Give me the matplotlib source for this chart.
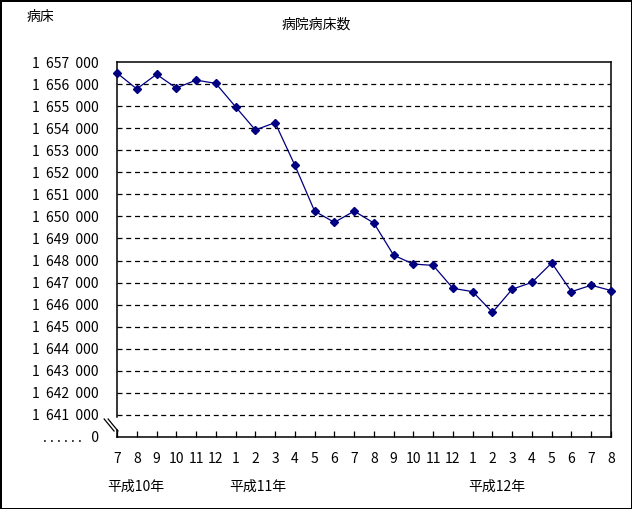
import matplotlib
matplotlib.use("Agg")
import matplotlib.pyplot as plt
import matplotlib.transforms as mtransforms
import numpy as np

plt.rcParams["font.family"] = ["Noto Sans CJK JP", "DejaVu Sans"]

# data: hospital beds, monthly, H10.7 - H12.8
months = [7, 8, 9, 10, 11, 12, 1, 2, 3, 4, 5, 6, 7, 8, 9, 10, 11, 12,
          1, 2, 3, 4, 5, 6, 7, 8]
beds = [1656500, 1655780, 1656440, 1655820, 1656180, 1656030, 1654970,
        1653920, 1654250, 1652320, 1650240, 1649730, 1650240, 1649700,
        1648240, 1647840, 1647780, 1646740, 1646590, 1645650, 1646700,
        1647010, 1647890, 1646590, 1646880, 1646640]
year_labels = ["平成10年", "平成11年", "平成12年"]
year_pos = [-0.5, 5.7, 17.8]

y_ticks = list(range(1641000, 1657001, 1000))
y_base = 1640000  # drawn as "0" below the axis break


def fmt(v):
    return f"{v:,}".replace(",", "  ")


fig = plt.figure(figsize=(6.32, 5.09), dpi=100, facecolor="white",
                 edgecolor="black", linewidth=2)
ax = fig.add_axes([117 / 632, 1 - 437 / 509, 494 / 632, 375 / 509])

x = np.arange(len(beds))
ax.plot(x, beds, color="#000080", lw=0.9, marker="D", markersize=4.5,
        markerfacecolor="#000080", markeredgecolor="#000080", clip_on=False, zorder=5)

ax.set_xlim(0, len(beds) - 1)
ax.set_ylim(y_base, y_ticks[-1])

# gridlines
for v in y_ticks[:-1]:
    ax.axhline(v, color="black", lw=0.9, ls=(0, (4, 3)), zorder=1)

ax.set_yticks([y_base] + y_ticks)
ax.set_yticklabels([". . . . . .   0"] + [fmt(v) for v in y_ticks])
ax.tick_params(axis="y", length=0, pad=13, labelsize=10)

ax.set_xticks(x)
ax.set_xticklabels([str(m) for m in months])
ax.tick_params(axis="x", direction="in", length=4, width=0.9, pad=11, labelsize=10)

for sp in ["top", "right", "bottom"]:
    ax.spines[sp].set_linewidth(1.1)
ax.spines["left"].set_visible(False)

# left axis with a break between 1641000 and 0
brk_top = (y_ticks[0] - y_base) / (y_ticks[-1] - y_base) - 0.006
brk_bot = 0.019
ax.plot([0, 0], [brk_top, 1], transform=ax.transAxes, color="black", lw=1.1, clip_on=False)
ax.plot([0, 0], [0, brk_bot], transform=ax.transAxes, color="black", lw=1.1, clip_on=False)
for dx in (-0.012, -0.004):
    ax.plot([dx - 0.014, dx + 0.006], [0.048, 0.016], transform=ax.transAxes,
            color="black", lw=0.9, clip_on=False)

trans = mtransforms.blended_transform_factory(ax.transData, ax.transAxes)
for lab, p in zip(year_labels, year_pos):
    ax.text(p, -0.133, lab, transform=trans, ha="left", va="center", fontsize=10)

fig.text(27 / 632, 1 - 17 / 509, "病床", ha="left", va="center", fontsize=10)
fig.text(316 / 632, 1 - 25 / 509, "病院病床数", ha="center", va="center", fontsize=10)

fig.savefig("out.png", dpi=100)
